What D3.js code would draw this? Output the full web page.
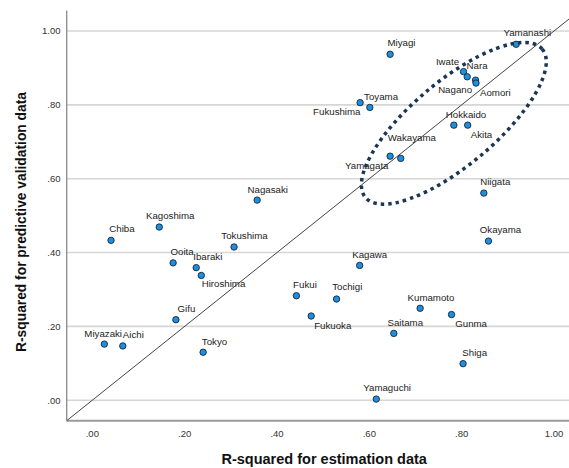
<!DOCTYPE html>
<html>
<head>
<meta charset="utf-8">
<script src="https://cdn.jsdelivr.net/npm/d3@7"></script>
<style>
  html, body { margin: 0; padding: 0; background: #fff; }
  svg { display: block; }
  text { font-family: "Liberation Sans", Arial, sans-serif; }
</style>
</head>
<body>
<svg id="chart" width="569" height="468"></svg>
<script>
// ---- data ----
const prefectures = ["Yamanashi","Miyagi","Iwate","Nara","Nagano","Aomori","Toyama","Fukushima",
  "Hokkaido","Akita","Wakayama","Yamagata","Niigata","Okayama","Kagawa","Tochigi","Kumamoto",
  "Nagasaki","Kagoshima","Chiba","Tokushima","Ooita","Ibaraki","Hiroshima","Fukui","Gifu",
  "Miyazaki","Aichi","Tokyo","Fukuoka","Saitama","Gunma","Shiga","Yamaguchi"];
const estimationR2 = [0.918,0.645,0.804,0.812,0.830,0.831,0.580,0.601,
  0.783,0.813,0.645,0.668,0.848,0.858,0.579,0.529,0.710,
  0.357,0.145,0.0405,0.307,0.175,0.225,0.236,0.442,0.181,
  0.026,0.066,0.240,0.474,0.653,0.778,0.803,0.615];
const validationR2 = [0.964,0.937,0.890,0.876,0.867,0.859,0.806,0.793,
  0.745,0.745,0.661,0.655,0.561,0.431,0.365,0.274,0.249,
  0.542,0.469,0.433,0.415,0.372,0.359,0.338,0.283,0.218,
  0.152,0.147,0.130,0.228,0.181,0.232,0.099,0.003];
const xTicks = [0, 0.2, 0.4, 0.6, 0.8, 1.0];
const yTicks = [0, 0.2, 0.4, 0.6, 0.8, 1.0];
const xTitle = "R-squared for estimation data";
const yTitle = "R-squared for predictive validation data";

// ---- layout (label placement offsets in px, relative to the point) ----
const labelOffsets = [[-12.7,-8.3],[-2.6,-8.3],[-27.6,-6.4],[-0.6,-8],[-37.4,13],[4,12.7],[4,-2.7],[-56.7,8],
  [-8,-7],[3,12.4],[-2.3,-15.6],[-55.7,10.7],[-3.7,-7.6],[-8.7,-7.7],[-7.4,-7.4],[-4.4,-9],[-12.6,-7.3],
  [-9.6,-7.6],[-13.3,-7.7],[-1.7,-8],[-12.7,-8.3],[-2.6,-7.7],[-3,-7.7],[0.4,12],[-3.3,-8],[1.7,-8],
  [-20,-7.3],[0,-8],[-1.3,-7.3],[3,13],[-6.3,-7.6],[3.7,12.6],[-0.7,-7.7],[-13,-8]];

const dMin = -0.0555, dMax = 1.0555;
const left = 66.7, bottom = 420.7;
const x = d3.scaleLinear().domain([dMin, dMax]).range([left, left + (dMax - dMin) * 461.7]);
const y = d3.scaleLinear().domain([dMin, dMax]).range([bottom, bottom - (dMax - dMin) * 369.2]);

const svg = d3.select("#chart");

// gridlines
svg.append("g").selectAll("line").data(yTicks).join("line")
  .attr("x1", left).attr("x2", 569)
  .attr("y1", d => y(d)).attr("y2", d => y(d))
  .attr("stroke", "#d6d6d6").attr("stroke-width", 1.6);

// y tick labels
svg.append("g").selectAll("text").data(yTicks).join("text")
  .attr("x", 60.5).attr("y", d => y(d)).attr("dy", "0.35em")
  .attr("text-anchor", "end").attr("font-size", 9.5).attr("fill", "#333")
  .text(d => d3.format(".2f")(d).replace(/^0/, ""));

// x tick labels
svg.append("g").selectAll("text").data(xTicks).join("text")
  .attr("x", d => x(d)).attr("y", 437)
  .attr("text-anchor", "middle").attr("font-size", 9.5).attr("fill", "#333")
  .text(d => d3.format(".2f")(d).replace(/^0/, ""));

// axes lines
svg.append("line").attr("x1", left).attr("x2", left).attr("y1", y(dMax)).attr("y2", bottom)
  .attr("stroke", "#8a8a8a").attr("stroke-width", 1.3);
svg.append("line").attr("x1", left).attr("x2", 569).attr("y1", bottom).attr("y2", bottom)
  .attr("stroke", "#9a9a9a").attr("stroke-width", 2);

// diagonal reference line y = x
svg.append("line")
  .attr("x1", x(dMin)).attr("y1", y(dMin)).attr("x2", x(dMax)).attr("y2", y(dMax))
  .attr("stroke", "#444").attr("stroke-width", 1);

// points
const idx = d3.range(prefectures.length);
svg.append("g").selectAll("circle").data(idx).join("circle")
  .attr("cx", i => x(estimationR2[i])).attr("cy", i => y(validationR2[i]))
  .attr("r", 3.2).attr("fill", "#1c8fe3").attr("stroke", "#1b2430").attr("stroke-width", 0.9);

// labels
svg.append("g").selectAll("text").data(idx).join("text")
  .attr("x", i => x(estimationR2[i]) + labelOffsets[i][0])
  .attr("y", i => y(validationR2[i]) + labelOffsets[i][1])
  .attr("font-size", 9.7).attr("fill", "#222")
  .text(i => prefectures[i]);

// dotted ellipse annotation
svg.append("ellipse")
  .attr("cx", 0).attr("cy", 0).attr("rx", 115.4).attr("ry", 42)
  .attr("transform", `translate(${x(0.783)},${y(0.750)}) rotate(-40)`)
  .attr("fill", "none").attr("stroke", "#1c3552").attr("stroke-width", 3.5)
  .attr("stroke-dasharray", "3.5 4");

// axis titles
svg.append("text").attr("x", 324.2).attr("y", 464)
  .attr("text-anchor", "middle").attr("font-size", 14.5).attr("font-weight", "bold").attr("fill", "#111")
  .text(xTitle);
svg.append("text")
  .attr("transform", `translate(26,222) rotate(-90)`)
  .attr("text-anchor", "middle").attr("font-size", 13.8).attr("font-weight", "bold").attr("fill", "#111")
  .text(yTitle);
</script>
</body>
</html>
